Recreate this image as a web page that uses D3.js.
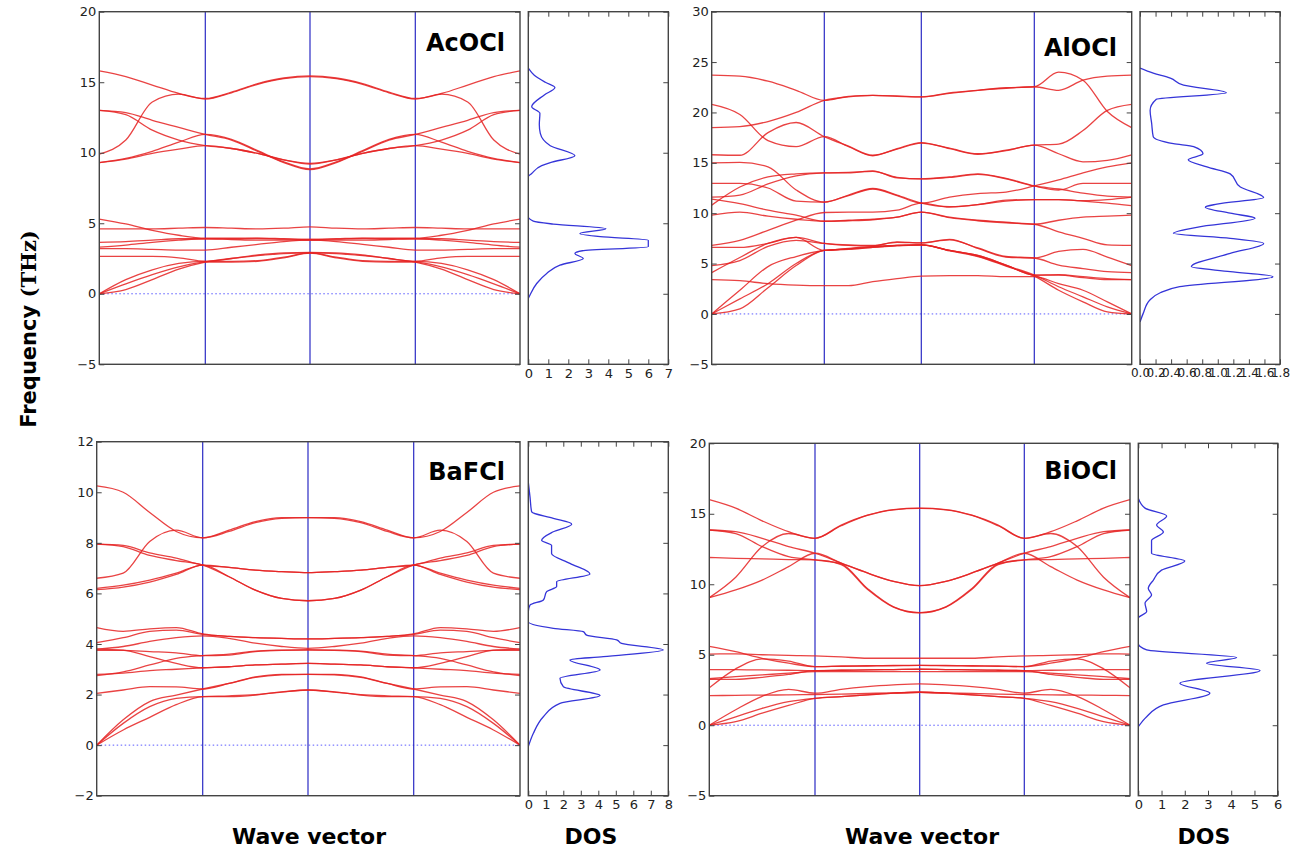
<!DOCTYPE html>
<html>
<head>
<meta charset="utf-8">
<script src="https://cdn.jsdelivr.net/npm/d3@7"></script>
<style>
  body { margin: 0; background: #fff; }
  svg { display: block; }
  text { font-family: "DejaVu Sans", sans-serif; }
</style>
</head>
<body>
<svg id="chart" width="1308" height="857"></svg>
<script>
// wave vector sample points, high-symmetry points at 0,1,2,3,4
var kPoints = [0, 0.25, 0.5, 0.75, 1, 1.25, 1.5, 1.75, 2, 2.25, 2.5, 2.75, 3, 3.25, 3.5, 3.75, 4];

var materials = ["AcOCl", "AlOCl", "BaFCl", "BiOCl"];

var acFreqTicks = [-5, 0, 5, 10, 15, 20];
var alFreqTicks = [-5, 0, 5, 10, 15, 20, 25, 30];
var baFreqTicks = [-2, 0, 2, 4, 6, 8, 10, 12];
var biFreqTicks = [-5, 0, 5, 10, 15, 20];

var acDosTicks = [0, 1, 2, 3, 4, 5, 6, 7];
var alDosTicks = [0, 0.2, 0.4, 0.6, 0.8, 1.0, 1.2, 1.4, 1.6, 1.8];
var baDosTicks = [0, 1, 2, 3, 4, 5, 6, 7, 8];
var biDosTicks = [0, 1, 2, 3, 4, 5, 6];

// phonon bands (THz) at kPoints
var acBands = [
  [15.8, 15.4, 14.8, 14.2, 13.85, 14.3, 14.9, 15.3, 15.45, 15.3, 14.9, 14.3, 13.85, 14.2, 14.8, 15.4, 15.8],
  [9.9, 10.9, 13.6, 14.15, 13.8, 14.25, 14.85, 15.25, 15.4, 15.25, 14.85, 14.25, 13.8, 14.15, 13.6, 10.9, 9.9],
  [13.0, 12.85, 12.3, 11.8, 11.3, 10.9, 10.1, 9.3, 8.8, 9.3, 10.1, 10.9, 11.3, 11.8, 12.3, 12.85, 13.0],
  [13.0, 12.7, 11.6, 10.9, 10.5, 10.3, 9.95, 9.5, 9.25, 9.5, 9.95, 10.3, 10.5, 10.9, 11.6, 12.7, 13.0],
  [9.3, 9.6, 10.1, 10.75, 11.3, 10.95, 10.15, 9.35, 8.85, 9.35, 10.15, 10.95, 11.3, 10.75, 10.1, 9.6, 9.3],
  [9.3, 9.55, 9.95, 10.25, 10.5, 10.3, 9.95, 9.5, 9.2, 9.5, 9.95, 10.3, 10.5, 10.25, 9.95, 9.55, 9.3],
  [5.3, 4.95, 4.5, 4.15, 3.95, 3.95, 3.95, 3.9, 3.85, 3.9, 3.95, 3.95, 3.95, 4.15, 4.5, 4.95, 5.3],
  [4.6, 4.6, 4.6, 4.65, 4.7, 4.65, 4.6, 4.65, 4.75, 4.65, 4.6, 4.65, 4.7, 4.65, 4.6, 4.6, 4.6],
  [3.65, 3.7, 3.8, 3.9, 3.9, 3.85, 3.8, 3.8, 3.8, 3.8, 3.8, 3.85, 3.9, 3.9, 3.8, 3.7, 3.65],
  [3.3, 3.45, 3.65, 3.8, 3.9, 3.9, 3.92, 3.88, 3.85, 3.88, 3.92, 3.9, 3.9, 3.8, 3.65, 3.45, 3.3],
  [3.2, 3.2, 3.15, 3.1, 3.1, 3.3, 3.5, 3.7, 3.8, 3.7, 3.5, 3.3, 3.1, 3.1, 3.15, 3.2, 3.2],
  [2.65, 2.65, 2.65, 2.55, 2.3, 2.5, 2.75, 2.9, 2.93, 2.9, 2.75, 2.5, 2.3, 2.55, 2.65, 2.65, 2.65],
  [0, 1.0, 1.7, 2.15, 2.3, 2.3, 2.35, 2.6, 2.9, 2.6, 2.35, 2.3, 2.3, 2.15, 1.7, 1.0, 0],
  [0, 0.7, 1.35, 1.9, 2.25, 2.25, 2.3, 2.55, 2.88, 2.55, 2.3, 2.25, 2.25, 1.9, 1.35, 0.7, 0],
  [0, 0.3, 1.0, 1.75, 2.25, 2.5, 2.7, 2.85, 2.9, 2.85, 2.7, 2.5, 2.25, 1.75, 1.0, 0.3, 0]
];

var alBands = [
  [23.7, 23.6, 23.1, 22.2, 21.2, 21.6, 21.7, 21.65, 21.55, 21.95, 22.2, 22.45, 22.55, 24.0, 23.2, 20.1, 18.5],
  [18.5, 18.6, 19.1, 20.0, 21.2, 21.55, 21.7, 21.6, 21.55, 21.9, 22.2, 22.4, 22.55, 22.2, 23.2, 23.6, 23.7],
  [20.8, 19.8, 17.2, 16.6, 17.6, 16.6, 15.7, 16.4, 17.0, 16.4, 15.85, 16.25, 16.75, 16.85, 18.2, 20.2, 20.8],
  [15.8, 15.75, 18.0, 19.0, 17.6, 16.65, 15.75, 16.35, 16.95, 16.45, 15.9, 16.2, 16.75, 15.9, 15.1, 15.25, 15.8],
  [15.0, 15.05, 14.6, 12.3, 11.1, 11.8, 12.45, 11.8, 11.0, 10.65, 10.85, 11.3, 11.35, 11.35, 11.25, 11.35, 11.6],
  [12.95, 12.95, 12.5, 11.2, 11.1, 11.75, 12.4, 11.75, 11.0, 11.6, 11.95, 12.1, 12.7, 13.3, 14.0, 14.6, 15.0],
  [10.8, 12.6, 13.6, 13.9, 14.0, 14.0, 14.2, 13.5, 13.4, 13.6, 13.9, 13.45, 12.7, 12.3, 12.95, 12.95, 12.95],
  [11.6, 11.8, 12.9, 13.7, 14.0, 14.05, 14.15, 13.55, 13.4, 13.55, 13.85, 13.4, 12.7, 12.4, 12.0, 11.7, 11.6],
  [11.4, 10.95, 10.3, 9.8, 9.2, 9.3, 9.4, 9.6, 10.1, 9.6, 9.3, 9.1, 8.9, 9.3, 9.6, 9.7, 9.8],
  [9.8, 10.1, 9.7, 9.4, 9.2, 9.25, 9.35, 9.6, 10.1, 9.55, 9.25, 9.05, 8.9, 8.15, 7.5, 6.85, 6.8],
  [6.8, 7.3, 8.3, 9.3, 10.07, 10.1, 10.1, 10.3, 11.0, 10.6, 10.85, 11.2, 11.35, 11.35, 11.2, 11.0, 10.75],
  [6.6, 6.6, 7.0, 7.6, 7.0, 6.8, 6.75, 7.15, 7.05, 7.4, 6.5, 5.65, 5.55, 6.2, 6.4, 5.65, 4.8],
  [4.8, 5.3, 6.7, 7.3, 7.0, 6.85, 6.8, 7.1, 7.05, 7.35, 6.55, 5.7, 5.55, 4.85, 4.5, 4.2, 4.1],
  [4.1, 5.6, 7.0, 7.6, 6.3, 6.5, 6.7, 6.8, 6.85, 6.3, 5.8, 4.85, 3.85, 3.85, 3.6, 3.4, 3.4],
  [3.4, 3.3, 3.0, 2.85, 2.8, 2.8, 3.2, 3.5, 3.75, 3.8, 3.8, 3.7, 3.7, 3.0, 2.35, 1.2, 0],
  [0, 2.35, 4.7, 5.7, 6.3, 6.45, 6.65, 6.8, 6.85, 6.3, 5.75, 4.8, 3.85, 2.7, 1.7, 0.7, 0],
  [0, 1.5, 3.0, 5.0, 6.3, 6.4, 6.6, 6.75, 6.85, 6.25, 5.7, 4.75, 3.75, 2.35, 1.2, 0.2, 0],
  [0, 0.5, 2.6, 4.8, 6.3, 6.45, 6.6, 6.8, 6.85, 6.3, 5.8, 4.85, 3.85, 3.9, 3.7, 3.5, 3.4]
];

var baBands = [
  [10.25, 10.0, 9.2, 8.45, 8.2, 8.5, 8.84, 9.0, 9.0, 9.0, 8.84, 8.5, 8.2, 8.45, 9.2, 10.0, 10.25],
  [6.6, 6.8, 8.05, 8.5, 8.2, 8.45, 8.8, 8.97, 9.0, 8.97, 8.8, 8.45, 8.2, 8.5, 8.05, 6.8, 6.6],
  [7.95, 7.9, 7.6, 7.4, 7.12, 7.03, 6.92, 6.86, 6.82, 6.86, 6.92, 7.03, 7.12, 7.4, 7.6, 7.9, 7.95],
  [7.95, 7.85, 7.5, 7.3, 7.12, 6.66, 6.13, 5.8, 5.71, 5.8, 6.13, 6.66, 7.12, 7.3, 7.5, 7.85, 7.95],
  [6.2, 6.33, 6.53, 6.8, 7.12, 7.03, 6.92, 6.86, 6.82, 6.86, 6.92, 7.03, 7.12, 6.8, 6.53, 6.33, 6.2],
  [6.15, 6.25, 6.45, 6.75, 7.12, 6.66, 6.13, 5.8, 5.71, 5.8, 6.13, 6.66, 7.12, 6.75, 6.45, 6.25, 6.15],
  [4.65, 4.5, 4.6, 4.65, 4.4, 4.3, 4.25, 4.22, 4.2, 4.22, 4.25, 4.3, 4.4, 4.65, 4.6, 4.5, 4.65],
  [4.05, 4.25, 4.5, 4.55, 4.38, 4.3, 4.25, 4.22, 4.2, 4.22, 4.25, 4.3, 4.38, 4.55, 4.5, 4.25, 4.05],
  [3.8, 3.9, 4.1, 4.25, 4.32, 4.22, 4.03, 3.9, 3.83, 3.9, 4.03, 4.22, 4.32, 4.25, 4.1, 3.9, 3.8],
  [3.8, 3.76, 3.5, 3.23, 3.06, 3.1, 3.17, 3.2, 3.23, 3.2, 3.17, 3.1, 3.06, 3.23, 3.5, 3.76, 3.8],
  [3.75, 3.75, 3.7, 3.65, 3.54, 3.56, 3.7, 3.75, 3.76, 3.75, 3.7, 3.56, 3.54, 3.65, 3.7, 3.75, 3.75],
  [2.75, 2.9, 3.17, 3.43, 3.54, 3.6, 3.72, 3.76, 3.78, 3.76, 3.72, 3.6, 3.54, 3.43, 3.17, 2.9, 2.75],
  [2.8, 2.85, 2.95, 3.0, 3.06, 3.1, 3.17, 3.2, 3.23, 3.2, 3.17, 3.1, 3.06, 3.0, 2.95, 2.85, 2.8],
  [2.05, 2.18, 2.31, 2.3, 2.22, 2.44, 2.7, 2.8, 2.8, 2.8, 2.7, 2.44, 2.22, 2.3, 2.31, 2.18, 2.05],
  [0, 0.86, 1.52, 1.85, 1.92, 1.92, 1.98, 2.11, 2.18, 2.11, 1.98, 1.92, 1.92, 1.85, 1.52, 0.86, 0],
  [0, 1.0, 1.72, 1.98, 2.22, 2.44, 2.68, 2.78, 2.8, 2.78, 2.68, 2.44, 2.22, 1.98, 1.72, 1.0, 0],
  [0, 0.6, 1.1, 1.6, 1.92, 1.95, 2.0, 2.1, 2.18, 2.1, 2.0, 1.95, 1.92, 1.6, 1.1, 0.6, 0]
];

var biBands = [
  [16.0, 15.4, 14.5, 13.73, 13.26, 14.2, 14.9, 15.3, 15.4, 15.3, 14.9, 14.2, 13.26, 13.73, 14.5, 15.4, 16.0],
  [9.05, 10.5, 12.67, 13.6, 13.26, 14.15, 14.88, 15.28, 15.38, 15.28, 14.88, 14.15, 13.26, 13.6, 12.67, 10.5, 9.05],
  [13.85, 13.73, 13.26, 12.67, 12.2, 11.5, 10.8, 10.2, 9.9, 10.2, 10.8, 11.5, 12.2, 12.67, 13.26, 13.73, 13.85],
  [13.85, 13.6, 12.67, 11.96, 11.73, 11.45, 9.7, 8.4, 7.99, 8.4, 9.7, 11.45, 11.73, 11.96, 12.67, 13.6, 13.85],
  [11.9, 11.84, 11.8, 11.75, 11.73, 11.4, 9.65, 8.38, 7.97, 8.38, 9.65, 11.4, 11.73, 11.75, 11.8, 11.84, 11.9],
  [9.05, 9.6, 10.3, 11.25, 12.2, 11.5, 10.8, 10.2, 9.9, 10.2, 10.8, 11.5, 12.2, 11.25, 10.3, 9.6, 9.05],
  [5.6, 5.22, 4.75, 4.4, 4.16, 4.2, 4.22, 4.25, 4.25, 4.25, 4.22, 4.2, 4.16, 4.4, 4.75, 5.22, 5.6],
  [5.05, 5.06, 5.0, 4.95, 4.92, 4.85, 4.75, 4.75, 4.75, 4.75, 4.75, 4.85, 4.92, 4.95, 5.0, 5.06, 5.05],
  [2.65, 4.0, 4.7, 4.55, 4.16, 4.18, 4.2, 4.22, 4.25, 4.22, 4.2, 4.18, 4.16, 4.55, 4.7, 4.0, 2.65],
  [3.95, 3.95, 3.92, 3.9, 3.88, 3.9, 3.93, 3.95, 3.97, 3.95, 3.93, 3.9, 3.88, 3.9, 3.92, 3.95, 3.95],
  [3.3, 3.45, 3.57, 3.69, 3.8, 3.8, 3.8, 3.8, 3.8, 3.8, 3.8, 3.8, 3.8, 3.69, 3.57, 3.45, 3.3],
  [3.25, 3.25, 3.4, 3.6, 3.88, 3.9, 3.93, 3.95, 3.97, 3.95, 3.93, 3.9, 3.88, 3.6, 3.4, 3.25, 3.25],
  [2.1, 2.12, 2.14, 2.15, 2.18, 2.2, 2.25, 2.3, 2.34, 2.3, 2.25, 2.2, 2.18, 2.15, 2.14, 2.12, 2.1],
  [0, 1.1, 2.05, 2.55, 2.27, 2.55, 2.74, 2.86, 2.93, 2.86, 2.74, 2.55, 2.27, 2.55, 2.05, 1.1, 0],
  [0, 0.6, 1.2, 1.67, 1.91, 2.03, 2.15, 2.27, 2.34, 2.27, 2.15, 2.03, 1.91, 1.67, 1.2, 0.6, 0],
  [0, 0.25, 0.85, 1.4, 1.91, 2.03, 2.15, 2.27, 2.34, 2.27, 2.15, 2.03, 1.91, 1.4, 0.85, 0.25, 0]
];

// density of states: frequency (THz) and DOS value
var acDosFreq = [16.0, 15.5, 15.0, 14.63, 14.1, 13.26, 12.8, 12.0, 11.37, 10.5, 9.79, 9.3, 9.08, 8.53, 8.3, 5.46, 5.15, 4.94, 4.61, 4.28, 4.05, 3.8, 3.33, 3.05, 2.86, 2.5, 2.03, 1.44, 0.73, -0.1, -0.33];
var acDosVal  = [0, 0.3, 0.85, 1.33, 0.8, 0.17, 0.58, 0.55, 0.6, 1.1, 2.33, 1.1, 0.67, 0.17, 0, 0, 0.25, 1.25, 3.88, 2.58, 3.6, 6.0, 6.0, 2.7, 2.33, 2.75, 1.58, 0.92, 0.42, 0.08, 0];

var alDosFreq = [24.4, 23.9, 23.4, 22.7, 21.95, 21.3, 20.2, 18.9, 17.6, 16.9, 16.6, 15.9, 15.3, 14.6, 13.9, 12.6, 11.55, 10.9, 10.6, 10.0, 9.5, 8.6, 8.0, 7.5, 7.0, 6.0, 4.7, 4.2, 3.7, 2.7, 2.1, 1.4, 0.03, -0.8];
var alDosVal  = [0, 0.17, 0.39, 0.56, 1.11, 0.21, 0.13, 0.15, 0.17, 0.43, 0.69, 0.81, 0.62, 0.86, 1.16, 1.29, 1.59, 0.99, 0.84, 1.16, 1.48, 0.73, 0.43, 1.16, 1.59, 1.16, 0.66, 1.16, 1.71, 0.51, 0.26, 0.13, 0.04, 0];

var baDosFreq = [10.4, 9.8, 9.23, 8.97, 8.74, 8.44, 8.1, 7.9, 7.58, 7.19, 6.77, 6.46, 6.27, 6.07, 5.74, 5.54, 5.28, 4.88, 4.62, 4.49, 4.35, 4.16, 4.02, 3.76, 3.5, 3.37, 2.97, 2.64, 2.31, 1.96, 1.65, 1.12, 0.47, -0.06];
var baDosVal  = [0, 0.1, 0.19, 1.43, 2.48, 1.43, 0.76, 1.33, 1.33, 2.38, 3.52, 1.62, 1.62, 1.05, 0.86, 0.1, 0, 0, 1.43, 3.14, 3.33, 5.05, 5.33, 7.71, 4.29, 2.38, 4.1, 1.81, 2.0, 4.1, 1.81, 0.86, 0.29, 0];

var biDosFreq = [16.1, 15.4, 14.85, 14.2, 13.7, 13.1, 12.2, 11.65, 11.0, 10.3, 9.7, 9.25, 8.65, 8.06, 7.6, 5.8, 5.34, 4.8, 4.4, 3.88, 2.98, 2.27, 1.44, 0.6, -0.1];
var biDosVal  = [0, 0.29, 1.22, 0.79, 1.08, 0.57, 0.57, 2.0, 1.0, 0.65, 0.43, 0.57, 0.29, 0.36, 0, 0, 0.36, 4.23, 2.94, 5.24, 1.79, 3.08, 1.08, 0.36, 0];

// layout of the four panels
var panels = [
  {name: materials[0], bands: acBands, dosF: acDosFreq, dosV: acDosVal, fTicks: acFreqTicks, dTicks: acDosTicks, dFmt: d3.format("d"), dSize: 13,
   kx: [99.3, 205.3, 310, 415.3, 520], top: 11.7, bottom: 364.3, dosX: [528.3, 668.3], lab: [505, 51]},
  {name: materials[1], bands: alBands, dosF: alDosFreq, dosV: alDosVal, fTicks: alFreqTicks, dTicks: alDosTicks, dFmt: d3.format(".1f"), dSize: 12,
   kx: [711.7, 824.3, 921.3, 1034.3, 1131.7], top: 11.7, bottom: 364.3, dosX: [1140, 1280], lab: [1117, 56]},
  {name: materials[2], bands: baBands, dosF: baDosFreq, dosV: baDosVal, fTicks: baFreqTicks, dTicks: baDosTicks, dFmt: d3.format("d"), dSize: 13,
   kx: [96.7, 202.7, 308, 413.7, 520], top: 441.7, bottom: 795.7, dosX: [528.3, 668.3], lab: [505, 480]},
  {name: materials[3], bands: biBands, dosF: biDosFreq, dosV: biDosVal, fTicks: biFreqTicks, dTicks: biDosTicks, dFmt: d3.format("d"), dSize: 13,
   kx: [709.3, 815, 919.7, 1024.3, 1130], top: 443.3, bottom: 795.7, dosX: [1138.3, 1277.7], lab: [1117, 479]}
];

var svg = d3.select("#chart");
svg.append("rect").attr("width", 1308).attr("height", 857).attr("fill", "#fff");

var frameColor = "#444";
var tickColor = "#222";

function numLabel(v){
  return v < 0 ? "\u2212" + Math.abs(v) : String(v);
}

function styleAxis(ax, showText, size){
  ax.select(".domain").remove();
  ax.selectAll(".tick line").attr("stroke", frameColor).attr("stroke-width", 1);
  ax.selectAll(".tick text").attr("fill", tickColor)
    .style("font-family", "'DejaVu Sans', sans-serif").style("font-size", (size || 13) + "px");
  if (!showText) ax.selectAll(".tick text").remove();
}

function drawPanel(p, idx){
  var g = svg.append("g").attr("class", "panel");
  var y = d3.scaleLinear().domain([p.fTicks[0], p.fTicks[p.fTicks.length-1]]).range([p.bottom, p.top]);
  var x = d3.scaleLinear().domain([0, 1, 2, 3, 4]).range(p.kx);
  var left = p.kx[0], right = p.kx[4];

  svg.append("clipPath").attr("id", "clip" + idx)
    .append("rect").attr("x", left).attr("y", p.top).attr("width", right - left).attr("height", p.bottom - p.top);
  svg.append("clipPath").attr("id", "clipd" + idx)
    .append("rect").attr("x", p.dosX[0]).attr("y", p.top).attr("width", p.dosX[1] - p.dosX[0]).attr("height", p.bottom - p.top);

  // zero line
  g.append("line").attr("x1", left).attr("x2", right).attr("y1", y(0)).attr("y2", y(0))
    .attr("stroke", "#5a5aff").attr("stroke-width", 1).attr("stroke-dasharray", "1.5,2.5");

  // high symmetry lines
  g.selectAll("line.sym").data([1, 2, 3]).join("line").attr("class", "sym")
    .attr("x1", d => x(d)).attr("x2", d => x(d)).attr("y1", p.top).attr("y2", p.bottom)
    .attr("stroke", "#2b2bc4").attr("stroke-width", 1.2);

  var line = d3.line().x((d, i) => x(kPoints[i])).y(d => y(d)).curve(d3.curveMonotoneX);
  g.append("g").attr("clip-path", "url(#clip" + idx + ")")
    .selectAll("path").data(p.bands).join("path")
    .attr("d", line).attr("fill", "none")
    .attr("stroke", "#e52222").attr("stroke-width", 1.3).attr("stroke-opacity", 0.85);

  // frame and ticks of band panel
  g.append("rect").attr("x", left).attr("y", p.top).attr("width", right - left).attr("height", p.bottom - p.top)
    .attr("fill", "none").attr("stroke", frameColor).attr("stroke-width", 1.4);

  var axL = g.append("g").attr("transform", "translate(" + left + ",0)")
    .call(d3.axisLeft(y).tickValues(p.fTicks).tickSizeInner(-5).tickSizeOuter(0).tickPadding(3).tickFormat(numLabel));
  styleAxis(axL, true);
  var axR = g.append("g").attr("transform", "translate(" + right + ",0)")
    .call(d3.axisRight(y).tickValues(p.fTicks).tickSizeInner(-5).tickSizeOuter(0));
  styleAxis(axR, false);

  // label
  g.append("text").attr("x", p.lab[0]).attr("y", p.lab[1]).attr("text-anchor", "end")
    .style("font-size", "24px").style("font-weight", "bold").attr("fill", "#000").text(p.name);

  // DOS panel
  var xd = d3.scaleLinear().domain([p.dTicks[0], p.dTicks[p.dTicks.length-1]]).range(p.dosX);
  var dline = d3.line().x(d => xd(d[1])).y(d => y(d[0])).curve(d3.curveMonotoneY);
  g.append("path").attr("clip-path", "url(#clipd" + idx + ")")
    .datum(d3.zip(p.dosF, p.dosV)).attr("d", dline)
    .attr("fill", "none").attr("stroke", "#3535d8").attr("stroke-width", 1.3);

  g.append("rect").attr("x", p.dosX[0]).attr("y", p.top).attr("width", p.dosX[1] - p.dosX[0]).attr("height", p.bottom - p.top)
    .attr("fill", "none").attr("stroke", frameColor).attr("stroke-width", 1.4);

  var axB = g.append("g").attr("transform", "translate(0," + p.bottom + ")")
    .call(d3.axisBottom(xd).tickValues(p.dTicks).tickSizeInner(-5).tickSizeOuter(0).tickPadding(4).tickFormat(p.dFmt));
  styleAxis(axB, true, p.dSize);
  var axT = g.append("g").attr("transform", "translate(0," + p.top + ")")
    .call(d3.axisTop(xd).tickValues(p.dTicks).tickSizeInner(-5).tickSizeOuter(0));
  styleAxis(axT, false);
  var axDR = g.append("g").attr("transform", "translate(" + p.dosX[1] + ",0)")
    .call(d3.axisRight(y).tickValues(p.fTicks).tickSizeInner(-5).tickSizeOuter(0));
  styleAxis(axDR, false);
}

panels.forEach(drawPanel);

// shared axis titles
var yTitle = svg.append("text").attr("transform", "translate(36,329) rotate(-90)")
  .attr("text-anchor", "middle").style("font-size", "21px").style("font-weight", "bold").attr("fill", "#000");
yTitle.append("tspan").text("Frequency ");
yTitle.append("tspan").style("font-family", "'DejaVu Serif', serif").text("(THz)");

var bottomTitles = [
  {t: "Wave vector", x: 309}, {t: "DOS", x: 591},
  {t: "Wave vector", x: 922}, {t: "DOS", x: 1204}
];
svg.selectAll("text.xt").data(bottomTitles).join("text").attr("class", "xt")
  .attr("x", d => d.x).attr("y", 844).attr("text-anchor", "middle")
  .style("font-size", "22px").style("font-weight", "bold").attr("fill", "#000")
  .text(d => d.t);
</script>
</body>
</html>
